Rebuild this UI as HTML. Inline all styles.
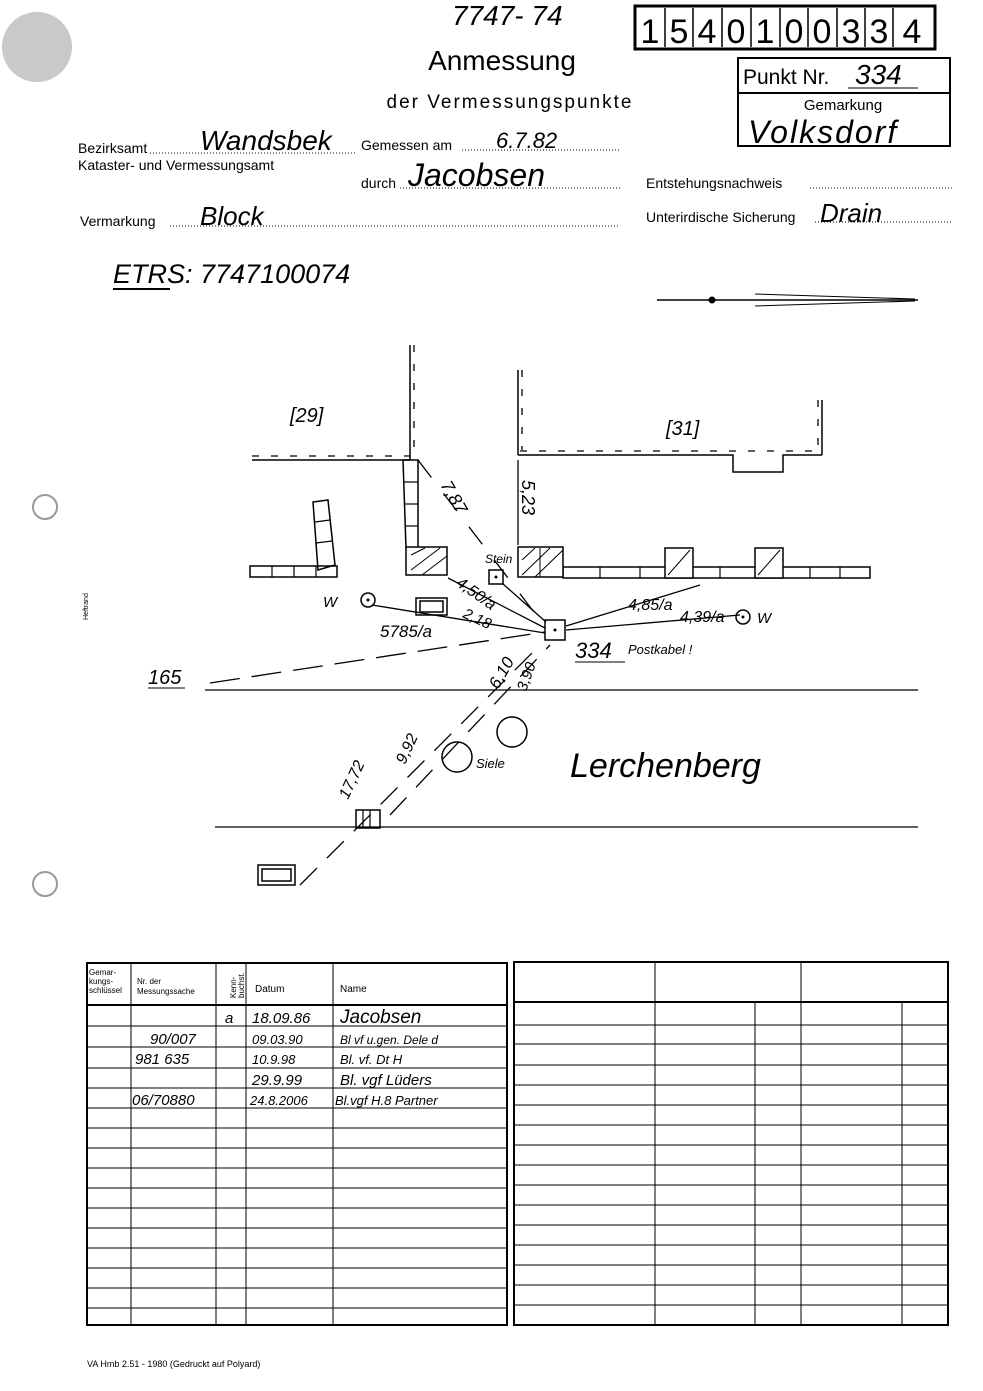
<!DOCTYPE html>
<html><head><meta charset="utf-8"><style>
html,body{margin:0;padding:0;background:#fff}
svg{display:block}
.p{font-family:"Liberation Sans",sans-serif;fill:#000}
.h{font-family:"Liberation Sans",sans-serif;font-style:italic;fill:#000}
</style></head><body>
<svg width="983" height="1391" viewBox="0 0 983 1391" xmlns="http://www.w3.org/2000/svg">
<rect width="983" height="1391" fill="#fff"/>
<circle cx="37" cy="47" r="35" fill="#c9c9c9"/>
<circle cx="45" cy="507" r="12" fill="none" stroke="#999" stroke-width="2"/>
<circle cx="45" cy="884" r="12" fill="none" stroke="#999" stroke-width="2"/>

<text x="452" y="25" class="h" font-size="28">7747- 74</text>
<rect x="635" y="6" width="300" height="43" fill="none" stroke="#000" stroke-width="3"/>
<g stroke="#000" stroke-width="1.5">
<line x1="665" y1="8" x2="665" y2="47"/><line x1="693" y1="8" x2="693" y2="47"/><line x1="722" y1="8" x2="722" y2="47"/><line x1="751" y1="8" x2="751" y2="47"/><line x1="780" y1="8" x2="780" y2="47"/><line x1="808" y1="8" x2="808" y2="47"/><line x1="837" y1="8" x2="837" y2="47"/><line x1="865" y1="8" x2="865" y2="47"/><line x1="893" y1="8" x2="893" y2="47"/>
</g>
<g class="p" font-size="34" text-anchor="middle">
<text x="650" y="43">1</text><text x="679" y="43">5</text><text x="707" y="43">4</text><text x="736" y="43">0</text><text x="765" y="43">1</text><text x="794" y="43">0</text><text x="822" y="43">0</text><text x="851" y="43">3</text><text x="879" y="43">3</text><text x="912" y="43">4</text>
</g>

<text x="502" y="70" class="p" font-size="28" text-anchor="middle">Anmessung</text>
<text x="510" y="108" class="p" font-size="19" text-anchor="middle" letter-spacing="2">der Vermessungspunkte</text>

<rect x="738" y="58" width="212" height="88" fill="none" stroke="#000" stroke-width="2"/>
<line x1="738" y1="93" x2="950" y2="93" stroke="#000" stroke-width="2"/>
<text x="743" y="84" class="p" font-size="21">Punkt Nr.</text>
<line x1="848" y1="88" x2="918" y2="88" stroke="#000"/>
<text x="855" y="84" class="h" font-size="28">334</text>
<text x="843" y="110" class="p" font-size="15" text-anchor="middle">Gemarkung</text>
<text x="748" y="143" class="h" font-size="32" letter-spacing="2">Volksdorf</text>

<g class="p" font-size="14">
<text x="78" y="153">Bezirksamt</text>
<text x="78" y="170">Kataster- und Vermessungsamt</text>
<text x="361" y="150">Gemessen am</text>
<text x="361" y="188">durch</text>
<text x="646" y="188">Entstehungsnachweis</text>
<text x="80" y="226">Vermarkung</text>
<text x="646" y="222">Unterirdische Sicherung</text>
</g>
<g stroke="#000" stroke-dasharray="1 2" stroke-width="1">
<line x1="150" y1="153" x2="355" y2="153"/><line x1="462" y1="150" x2="620" y2="150"/>
<line x1="400" y1="188" x2="620" y2="188"/><line x1="810" y1="188" x2="952" y2="188"/>
<line x1="170" y1="226" x2="620" y2="226"/><line x1="815" y1="222" x2="952" y2="222"/>
</g>
<text x="200" y="150" class="h" font-size="28">Wandsbek</text>
<text x="496" y="148" class="h" font-size="22">6.7.82</text>
<text x="408" y="186" class="h" font-size="32">Jacobsen</text>
<text x="200" y="225" class="h" font-size="26">Block</text>
<text x="820" y="222" class="h" font-size="26">Drain</text>
<text x="113" y="283" class="h" font-size="27">ETRS: 7747100074</text>
<line x1="113" y1="289" x2="170" y2="289" stroke="#000" stroke-width="2"/>

<line x1="657" y1="300" x2="918" y2="300" stroke="#000" stroke-width="1.5"/>
<circle cx="712" cy="300" r="3.5"/>
<line x1="755" y1="294" x2="915" y2="299" stroke="#000"/>
<line x1="755" y1="306" x2="915" y2="301" stroke="#000"/>

<g stroke="#000" stroke-width="1.5" fill="none">
<line x1="410" y1="345" x2="410" y2="460"/><line x1="518" y1="370" x2="518" y2="455"/><line x1="822" y1="400" x2="822" y2="455"/>
<polyline points="252,460 410,460"/>
<polyline points="518,455 733,455 733,472 783,472 783,455 822,455"/>
<polygon points="403,460 418,460 418,548 406,548"/>
<polygon points="313,502 328,500 335,565 318,570"/>
<rect x="250" y="566" width="87" height="11"/>
<rect x="563" y="567" width="307" height="11"/>
<rect x="406" y="547" width="41" height="28" fill="#fff"/>
<rect x="518" y="547" width="45" height="30" fill="#fff"/>
<rect x="665" y="548" width="28" height="30" fill="#fff"/>
<rect x="755" y="548" width="28" height="30" fill="#fff"/>
<rect x="489" y="570" width="14" height="14"/>
<rect x="545" y="620" width="20" height="20"/>
<rect x="416" y="598" width="31" height="17"/><rect x="420" y="601" width="23" height="11"/>
<rect x="258" y="865" width="37" height="20"/><rect x="262" y="869" width="29" height="12"/>
<circle cx="368" cy="600" r="7"/><circle cx="743" cy="617" r="7"/>
<circle cx="457" cy="757" r="15"/><circle cx="512" cy="732" r="15"/>
<rect x="356" y="810" width="24" height="18"/>
</g>
<!-- wall hatch ticks -->
<g stroke="#000" stroke-width="1.3">
<line x1="252" y1="456" x2="410" y2="456" stroke-dasharray="7 12"/>
<line x1="520" y1="451" x2="822" y2="451" stroke-dasharray="7 12"/>
<line x1="414" y1="345" x2="414" y2="455" stroke-dasharray="7 12"/>
<line x1="522" y1="370" x2="522" y2="450" stroke-dasharray="7 12"/>
<line x1="818" y1="400" x2="818" y2="450" stroke-dasharray="7 12"/>
</g>
<!-- ladder rungs -->
<g stroke="#000" stroke-width="1.2">
<line x1="404" y1="482" x2="418" y2="482"/><line x1="404" y1="504" x2="418" y2="504"/><line x1="405" y1="526" x2="418" y2="526"/>
<line x1="315" y1="522" x2="330" y2="520"/><line x1="316" y1="543" x2="332" y2="541"/>
<line x1="272" y1="566" x2="272" y2="577"/><line x1="294" y1="566" x2="294" y2="577"/><line x1="316" y1="566" x2="316" y2="577"/>
<line x1="600" y1="567" x2="600" y2="578"/><line x1="640" y1="567" x2="640" y2="578"/><line x1="720" y1="567" x2="720" y2="578"/><line x1="810" y1="567" x2="810" y2="578"/><line x1="840" y1="567" x2="840" y2="578"/>
<line x1="363" y1="810" x2="363" y2="828"/><line x1="370" y1="810" x2="370" y2="828"/>
</g>
<g stroke="#000" stroke-width="1">
<line x1="411" y1="555" x2="425" y2="548"/><line x1="411" y1="570" x2="440" y2="548"/><line x1="422" y1="575" x2="447" y2="556"/>
<line x1="522" y1="560" x2="535" y2="548"/><line x1="522" y1="575" x2="550" y2="548"/><line x1="535" y1="577" x2="563" y2="550"/>
<line x1="540" y1="548" x2="540" y2="577"/>
<line x1="668" y1="575" x2="690" y2="550"/><line x1="758" y1="575" x2="780" y2="550"/>
</g>
<circle cx="496" cy="577" r="1.5"/><circle cx="555" cy="630" r="1.5"/><circle cx="368" cy="600" r="1.5"/><circle cx="743" cy="617" r="1.5"/>

<g stroke="#000" stroke-width="1.3">
<line x1="205" y1="690" x2="918" y2="690"/>
<line x1="215" y1="827" x2="918" y2="827"/>
<line x1="210" y1="683" x2="545" y2="632" stroke-dasharray="30 12"/>
<line x1="300" y1="885" x2="540" y2="645" stroke-dasharray="24 14"/>
<line x1="390" y1="815" x2="550" y2="645" stroke-dasharray="24 14"/>
<line x1="418" y1="460" x2="540" y2="620" stroke-dasharray="22 20"/>
<line x1="518" y1="460" x2="518" y2="545"/>
<line x1="448" y1="578" x2="545" y2="628"/>
<line x1="503" y1="584" x2="546" y2="622"/>
<line x1="566" y1="630" x2="740" y2="615"/>
<line x1="566" y1="626" x2="700" y2="585"/>
<line x1="372" y1="605" x2="545" y2="633"/>
</g>

<g class="h">
<text x="290" y="422" font-size="20">[29]</text>
<text x="666" y="435" font-size="20">[31]</text>
<text x="485" y="563" font-size="12">Stein</text>
<text x="323" y="607" font-size="15">W</text>
<text x="757" y="623" font-size="15">W</text>
<text x="380" y="637" font-size="17">5785/a</text>
<text x="628" y="610" font-size="16">4,85/a</text>
<text x="680" y="622" font-size="16">4,39/a</text>
<text x="575" y="658" font-size="22">334</text>
<text x="628" y="654" font-size="13">Postkabel !</text>
<text x="148" y="684" font-size="20">165</text>
<text x="570" y="777" font-size="34">Lerchenberg</text>
<text x="476" y="768" font-size="13">Siele</text>
<text x="440" y="485" font-size="18" transform="rotate(60 440 485)">7,87</text>
<text x="522" y="480" font-size="18" transform="rotate(90 522 480)">5,23</text>
<text x="455" y="585" font-size="16" transform="rotate(35 455 585)">4,50/a</text>
<text x="462" y="617" font-size="15" transform="rotate(25 462 617)">2,18</text>
<text x="498" y="690" font-size="17" transform="rotate(-60 498 690)">6,10</text>
<text x="526" y="692" font-size="15" transform="rotate(-70 526 692)">3,90</text>
<text x="348" y="800" font-size="16" transform="rotate(-65 348 800)">17,72</text>
<text x="405" y="765" font-size="16" transform="rotate(-65 405 765)">9,92</text>
</g>
<line x1="575" y1="662" x2="625" y2="662" stroke="#000"/>
<line x1="148" y1="688" x2="185" y2="688" stroke="#000"/>

<text x="88" y="620" class="p" font-size="7" transform="rotate(-90 88 620)">Heftrand</text>

<g stroke="#000" fill="none">
<rect x="87" y="963" width="420" height="362" stroke-width="2"/>
<line x1="131" y1="963" x2="131" y2="1325"/><line x1="216" y1="963" x2="216" y2="1325"/>
<line x1="246" y1="963" x2="246" y2="1325"/><line x1="333" y1="963" x2="333" y2="1325"/>
<line x1="87" y1="1005" x2="507" y2="1005" stroke-width="2"/>
<line x1="87" y1="1026" x2="507" y2="1026"/><line x1="87" y1="1047" x2="507" y2="1047"/>
<line x1="87" y1="1068" x2="507" y2="1068"/><line x1="87" y1="1088" x2="507" y2="1088"/>
<line x1="87" y1="1108" x2="507" y2="1108"/><line x1="87" y1="1128" x2="507" y2="1128"/>
<line x1="87" y1="1148" x2="507" y2="1148"/><line x1="87" y1="1168" x2="507" y2="1168"/>
<line x1="87" y1="1188" x2="507" y2="1188"/><line x1="87" y1="1208" x2="507" y2="1208"/>
<line x1="87" y1="1228" x2="507" y2="1228"/><line x1="87" y1="1248" x2="507" y2="1248"/>
<line x1="87" y1="1268" x2="507" y2="1268"/><line x1="87" y1="1288" x2="507" y2="1288"/>
<line x1="87" y1="1308" x2="507" y2="1308"/>
</g>
<g class="p" font-size="8">
<text x="89" y="975">Gemar-</text><text x="89" y="984">kungs-</text><text x="89" y="993">schlüssel</text>
<text x="137" y="984">Nr. der</text><text x="137" y="994">Messungssache</text>
<text x="236" y="998" transform="rotate(-90 236 998)">Kenn-</text>
<text x="244" y="998" transform="rotate(-90 244 998)">buchst.</text>
<text x="255" y="992" font-size="10">Datum</text>
<text x="340" y="992" font-size="10">Name</text>
</g>
<g class="h" font-size="15">
<text x="225" y="1023">a</text><text x="252" y="1023">18.09.86</text><text x="340" y="1023" font-size="19">Jacobsen</text>
<text x="150" y="1044">90/007</text><text x="252" y="1044" font-size="13">09.03.90</text><text x="340" y="1044" font-size="12">Bl vf u.gen. Dele d</text>
<text x="135" y="1064">981 635</text><text x="252" y="1064" font-size="13">10.9.98</text><text x="340" y="1064" font-size="13">Bl. vf. Dt H</text>
<text x="252" y="1085">29.9.99</text><text x="340" y="1085">Bl. vgf Lüders</text>
<text x="132" y="1105">06/70880</text><text x="250" y="1105" font-size="13">24.8.2006</text><text x="335" y="1105" font-size="13">Bl.vgf  H.8 Partner</text>
</g>

<g stroke="#000" fill="none">
<rect x="514" y="962" width="434" height="363" stroke-width="2"/>
<line x1="655" y1="962" x2="655" y2="1325"/><line x1="801" y1="962" x2="801" y2="1325"/>
<line x1="755" y1="1002" x2="755" y2="1325"/><line x1="902" y1="1002" x2="902" y2="1325"/>
<line x1="514" y1="1002" x2="948" y2="1002" stroke-width="2"/>
<line x1="514" y1="1025" x2="948" y2="1025"/><line x1="514" y1="1044" x2="948" y2="1044"/>
<line x1="514" y1="1065" x2="948" y2="1065"/><line x1="514" y1="1085" x2="948" y2="1085"/>
<line x1="514" y1="1105" x2="948" y2="1105"/><line x1="514" y1="1125" x2="948" y2="1125"/>
<line x1="514" y1="1145" x2="948" y2="1145"/><line x1="514" y1="1165" x2="948" y2="1165"/>
<line x1="514" y1="1185" x2="948" y2="1185"/><line x1="514" y1="1205" x2="948" y2="1205"/>
<line x1="514" y1="1225" x2="948" y2="1225"/><line x1="514" y1="1245" x2="948" y2="1245"/>
<line x1="514" y1="1265" x2="948" y2="1265"/><line x1="514" y1="1285" x2="948" y2="1285"/>
<line x1="514" y1="1305" x2="948" y2="1305"/>
</g>

<text x="87" y="1367" class="p" font-size="9">VA Hmb 2.51 - 1980 (Gedruckt auf Polyard)</text>
</svg>
</body></html>
